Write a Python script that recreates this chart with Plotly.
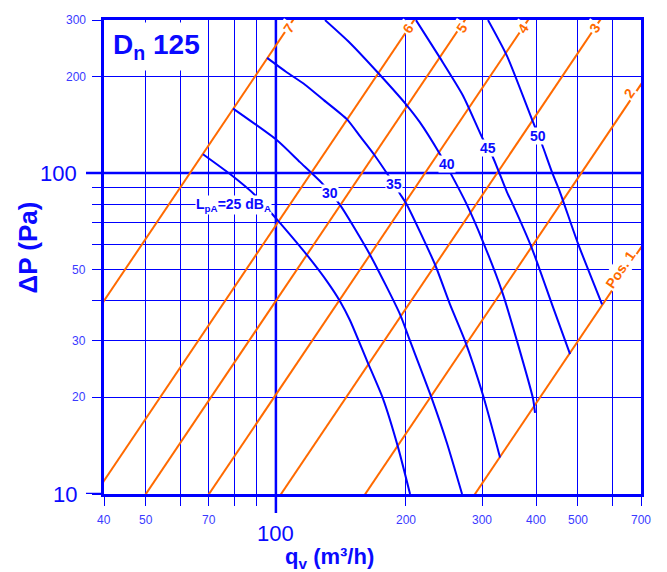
import numpy as np
import plotly.graph_objects as go

BLUE = '#0000ff'
TXT = '#0a0aff'
TICKTXT = '#3a3aff'
ORANGE = '#ff6a00'
FONT = 'Arial, Liberation Sans, sans-serif'

# ---- sound level curves L_pA (dB(A)) : flow q (m3/h) vs pressure dP (Pa)
lp25_q = [67.8, 78.3, 89.4, 97.9, 107.8, 118.7, 131.3, 140.7, 148.4, 162.5, 177.0, 191.7, 204.4]
lp25_dp = [114.5, 99.3, 85.5, 74.7, 64.3, 55.0, 46.0, 39.9, 34.8, 26.0, 19.8, 14.0, 10.0]
lp30_q = [79.6, 100.6, 113.7, 127.8, 140.7, 165.1, 193.8, 204.4, 229.7, 248.9, 269.7]
lp30_dp = [158.9, 126.6, 108.2, 93.1, 79.6, 55.7, 36.3, 30.0, 19.8, 14.4, 10.0]
lp35_q = [95.4, 105.5, 116.8, 129.3, 146.1, 157.0, 168.5, 181.8, 193.8, 201.1, 233.5, 252.9, 274.0, 301.6, 330.2]
lp35_dp = [228.6, 207.0, 188.6, 168.5, 147.0, 129.6, 114.5, 98.6, 86.1, 79.6, 51.9, 39.0, 30.0, 20.3, 13.0]
lp40_q = [129.9, 148.4, 172.3, 201.1, 215.5, 239.8, 252.9, 276.9, 301.6, 333.7, 361.4, 393.7, 397.9]
lp40_dp = [299.8, 254.4, 205.4, 162.4, 143.9, 114.5, 100.7, 79.6, 61.1, 42.8, 30.0, 19.8, 17.9]
lp45_q = [211.0, 239.8, 271.1, 301.6, 316.4, 342.6, 353.9, 391.5, 435.6, 479.6]
lp45_dp = [299.8, 228.6, 174.3, 127.5, 113.7, 87.3, 79.6, 58.2, 39.0, 27.3]
lp50_q = [309.7, 342.6, 391.5, 412.9, 435.6, 454.5, 500.4, 568.8]
lp50_dp = [299.8, 231.9, 147.0, 123.0, 100.7, 87.3, 60.3, 39.0]

curve_names = ['25', '30', '35', '40', '45', '50']
curve_q = [lp25_q, lp30_q, lp35_q, lp40_q, lp45_q, lp50_q]
curve_dp = [lp25_dp, lp30_dp, lp35_dp, lp40_dp, lp45_dp, lp50_dp]

# label positions of curves (q, dP)
curve_label_text = ['L<sub>pA</sub>=25 dB<sub>A</sub>', '30', '35', '40', '45', '50']
curve_label_q = [79.6, 133.4, 187.7, 248.5, 310.2, 404.9]
curve_label_dp = [79.6, 86.9, 92.3, 106.9, 119.5, 130.2]

# ---- damper positions: dP = k * q^2, each passing a reference point (q, dP)
pos_names = ['1', '2', '3', '4', '5', '6', '7']
pos_ref_q = [289.0, 161.0, 102.8, 70.0, 50.0, 40.0, 40.0]
pos_ref_dp = [10.0, 10.0, 10.0, 10.0, 10.0, 11.0, 40.0]
pos_label_text = ['Pos. 1', '2', '3', '4', '5', '6', '7']
pos_label_q = [629.2, 657.6, 547.6, 373.8, 269.2, 202.5, 107.2]
pos_label_dp = [50.1, 178.2, 283.0, 283.0, 283.0, 283.0, 283.0]

# ---- axes
x_grid = [40, 50, 60, 70, 80, 90, 100, 200, 300, 400, 500, 600, 700]
x_labels = [40, 50, 70, 100, 200, 300, 400, 500, 700]
y_grid = [10, 20, 30, 40, 50, 60, 70, 80, 90, 100, 200, 300]
y_labels = [10, 20, 30, 50, 100, 200, 300]
big_labels = [10, 100]
q_span = [30.0, 900.0]

fig = go.Figure()

# position lines
for name, q0, p0 in zip(pos_names, pos_ref_q, pos_ref_dp):
    k = p0 / q0 ** 2
    qs = np.array(q_span)
    fig.add_trace(go.Scatter(x=qs, y=k * qs ** 2, mode='lines',
                             line=dict(color=ORANGE, width=2), hoverinfo='skip', name='Pos ' + name))

# sound curves
for name, qs, ps in zip(curve_names, curve_q, curve_dp):
    fig.add_trace(go.Scatter(x=qs, y=ps, mode='lines',
                             line=dict(color=BLUE, width=2, shape='spline', smoothing=0.6),
                             hoverinfo='skip', name=name))

annotations = []
for t, q, p in zip(curve_label_text, curve_label_q, curve_label_dp):
    annotations.append(dict(x=np.log10(q), y=np.log10(p), xref='x', yref='y', text='<b>%s</b>' % t,
                            showarrow=False, bgcolor='white', borderpad=0,
                            font=dict(family=FONT, size=14, color=TXT)))
for t, q, p in zip(pos_label_text, pos_label_q, pos_label_dp):
    annotations.append(dict(x=np.log10(q), y=np.log10(p), xref='x', yref='y', text='<b>%s</b>' % t,
                            showarrow=False, bgcolor='white', borderpad=1, textangle=-56,
                            font=dict(family=FONT, size=14, color=ORANGE)))

for v in x_labels:
    big = v in big_labels
    annotations.append(dict(x=np.log10(v), y=0, xref='x', yref='paper', text=str(v), showarrow=False,
                            yanchor='middle', yshift=-39 if big else -26,
                            font=dict(family=FONT, size=22 if big else 12, color=TXT if big else TICKTXT)))
for v in y_labels:
    big = v in big_labels
    annotations.append(dict(x=0, y=np.log10(v), xref='paper', yref='y', text=str(v), showarrow=False,
                            xanchor='right', xshift=-25 if big else -16,
                            font=dict(family=FONT, size=22 if big else 12, color=TXT if big else TICKTXT)))

annotations.append(dict(x=0, y=1, xref='paper', yref='paper', xanchor='left', yanchor='top',
                        text='<b>D<sub>n</sub> 125</b>', showarrow=False, bgcolor='white',
                        borderpad=6, xshift=2, yshift=-2,
                        font=dict(family=FONT, size=28, color=TXT)))
annotations.append(dict(x=0.42, y=0, xref='paper', yref='paper', yanchor='middle', yshift=-64,
                        text='<b>q<sub>v</sub> (m³/h)</b>', showarrow=False,
                        font=dict(family=FONT, size=22, color=TXT)))
annotations.append(dict(x=0, y=0.52, xref='paper', yref='paper', xanchor='center', xshift=-76,
                        text='<b>ΔP (Pa)</b>', showarrow=False, textangle=-90,
                        font=dict(family=FONT, size=26, color=TXT)))

shapes = [
    dict(type='line', xref='x', yref='paper', x0=100, x1=100, y0=-19 / 477, y1=1,
         line=dict(color=BLUE, width=2.5), layer='below'),
    dict(type='line', xref='paper', yref='y', x0=-18 / 537, x1=1, y0=100, y1=100,
         line=dict(color=BLUE, width=2.5), layer='below'),
    dict(type='line', xref='paper', yref='y', x0=-18 / 537, x1=0, y0=10, y1=10,
         line=dict(color=BLUE, width=2.5), layer='below'),
]

axis_common = dict(type='log', showticklabels=False, ticks='outside', ticklen=9, tickwidth=1.3,
                   tickcolor=BLUE, showgrid=True, gridcolor=BLUE, gridwidth=1.3,
                   showline=True, linecolor=BLUE, linewidth=3, mirror=True, zeroline=False)

fig.update_layout(
    width=667, height=572,
    margin=dict(l=96, r=34, t=9, b=86),
    plot_bgcolor='white', paper_bgcolor='white',
    showlegend=False,
    xaxis=dict(range=[np.log10(40), np.log10(700)], tickvals=x_grid, **axis_common),
    yaxis=dict(range=[np.log10(10), np.log10(300)], tickvals=y_grid, **axis_common),
    annotations=annotations,
    shapes=shapes,
    font=dict(family=FONT),
)

fig.write_html('out.html')
